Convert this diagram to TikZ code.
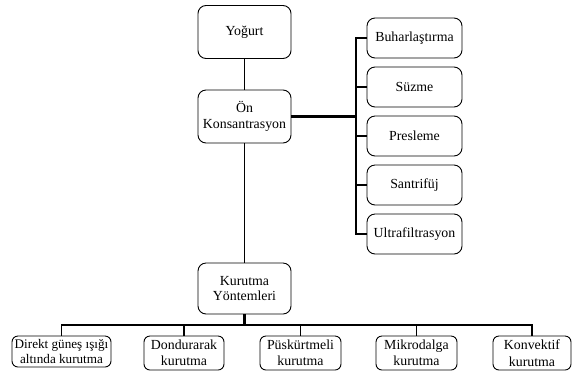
\documentclass[tikz,border=0pt]{standalone}
\usepackage{fontspec}
\setmainfont{Liberation Serif}
\begin{document}
\begin{tikzpicture}[x=1bp,y=-1bp,
  box/.style={draw, rounded corners=8bp, line width=0.9bp, align=center, inner sep=1bp,
    font=\fontsize{13.9}{16}\selectfont},
  bigbox/.style={box, minimum width=93bp, minimum height=53bp},
  sidebox/.style={box, minimum width=95bp, minimum height=40bp},
  lowbox/.style={box, rounded corners=6bp, minimum height=34bp, font=\fontsize{13.9}{16.5}\selectfont},
  conn/.style={line width=1.1bp},
  midline/.style={line width=1.9bp},
  trunk/.style={line width=2.6bp}]
\useasboundingbox (0,0) rectangle (572,378);

\node[bigbox] (yog) at (244.5,32) {Yoğurt};
\node[bigbox] (on) at (244.5,116.5) {Ön\\Konsantrasyon};
\node[bigbox, minimum height=51bp] (kur) at (244.5,288.5) {Kurutma\\Yöntemleri};

\node[sidebox] (buh) at (414.5,38) {Buharlaştırma};
\node[sidebox] (suz) at (414.5,87) {Süzme};
\node[sidebox] (pre) at (414.5,136) {Presleme};
\node[sidebox] (san) at (414.5,185) {Santrifüj};
\node[sidebox] (ult) at (414.5,234) {Ultrafiltrasyon};

\node[lowbox, minimum width=99bp, minimum height=31bp, font=\fontsize{13.2}{14.5}\selectfont] (dir) at (61.5,351.5) {Direkt güneş ışığı\\altında kurutma};
\node[lowbox, minimum width=80bp] (don) at (184,353) {Dondurarak\\kurutma};
\node[lowbox, minimum width=81bp] (pus) at (300.5,353) {Püskürtmeli\\kurutma};
\node[lowbox, minimum width=81bp] (mik) at (416.5,353) {Mikrodalga\\kurutma};
\node[lowbox, minimum width=78bp] (kon) at (532,353) {Konvektif\\kurutma};

\coordinate (rbx) at (356,117);
\coordinate (bb) at (244.5,325);

\draw[conn] (yog) -- (on);
\draw[midline] (on) -- (kur);

\draw[conn] (buh.west) -- (buh.west -| rbx) -- (ult.west -| rbx) -- (ult.west);
\draw[conn] (suz.west) -- (suz.west -| rbx);
\draw[conn] (pre.west) -- (pre.west -| rbx);
\draw[conn] (san.west) -- (san.west -| rbx);
\draw[trunk] (on.east) -- (on.east -| rbx);

\draw[conn] (dir.north) -- (dir.north |- bb) -- (kon.north |- bb) -- (kon.north);
\draw[conn] (don.north) -- (don.north |- bb);
\draw[conn] (pus.north) -- (pus.north |- bb);
\draw[conn] (mik.north) -- (mik.north |- bb);
\draw[trunk] (don.north |- bb) -- (mik.north |- bb);
\draw[trunk] (kur.south) -- (bb);
\end{tikzpicture}
\end{document}
